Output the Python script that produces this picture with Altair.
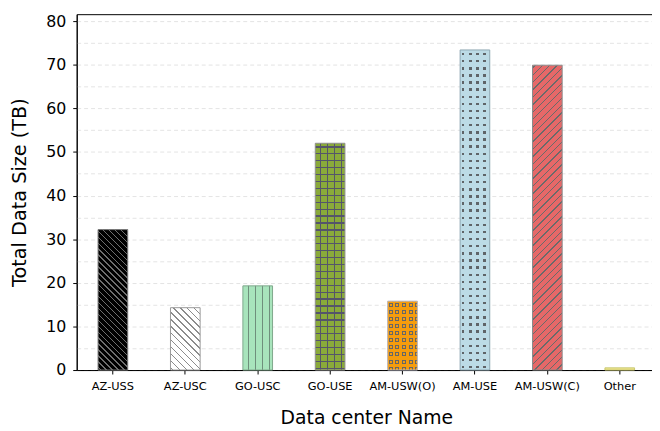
import altair as alt
import pandas as pd

# ---- data ----
centers = ["AZ-USS", "AZ-USC", "GO-USC", "GO-USE", "AM-USW(O)", "AM-USE", "AM-USW(C)", "Other"]
sizes_tb = [32.2, 14.3, 19.3, 52.0, 15.8, 73.4, 69.9, 0.5]

# ---- styles ----
fills = ["#000000", "#ffffff", "#a8e4bc", "#8aaa3a", "#f59c0c", "#bcdbe6", "#e66868", "#f0e68c"]
edges = ["#777777", "#9a9a9a", "#7fa88c", "#8f8f8f", "#b9b9c8", "#8fa8b3", "#8a8a8a", "#c8c870"]
HATCH = "#666666"
CLEAR = "rgba(0,0,0,0)"

W_PX, H_PX, Y_MAX, BAR_W = 586, 360, 81.6, 30
FONT = "DejaVu Sans"

df = pd.DataFrame({"center": centers, "size": sizes_tb})


def bar_h(name):
    return sizes_tb[centers.index(name)] * H_PX / Y_MAX


def band_stops(length, period, intervals, on, off, phase=0.0):
    """Hard-edged stops: colour `on` inside each interval (px, relative to period start)."""
    stops = [{"offset": 0, "color": off}]
    start = phase - period
    while start < length:
        for a, b in intervals:
            a0, b0 = max(0.0, start + a), min(length, start + b)
            if b0 > a0:
                stops += [{"offset": a0 / length, "color": off}, {"offset": a0 / length, "color": on},
                          {"offset": b0 / length, "color": on}, {"offset": b0 / length, "color": off}]
        start += period
    stops.append({"offset": 1, "color": off})
    last = 0
    for s in stops:
        s["offset"] = max(last, min(1.0, round(s["offset"], 5)))
        last = s["offset"]
    return stops


def grad(x2, y2, stops, x1=0, y1=0):
    return {"gradient": "linear", "x1": x1, "y1": y1, "x2": x2, "y2": y2, "stops": stops}


def diag(name, bg, fg, spacing, lw, forward):
    w, h = BAR_W, bar_h(name)
    L = w + h
    k = (w + h) / (w * w + h * h)
    stops = band_stops(L, spacing, [(0, lw * 1.414)], fg, bg, phase=2)
    if forward:  # "/" lines
        return grad(k * w, k * h, stops)
    return grad(k * w, 1 - k * h, stops, x1=0, y1=1)  # "\" lines


def vert_lines(bg, fg, period, intervals, phase):
    return grad(1, 0, band_stops(BAR_W, period, intervals, fg, bg, phase))


def horiz_lines(name, bg, fg, period, intervals, phase):
    return grad(0, 1, band_stops(bar_h(name), period, intervals, fg, bg, phase))


y_axis = alt.Axis(
    values=list(range(0, 85, 5)),
    labelExpr="datum.value % 10 == 0 ? datum.label : ''",
    tickOpacity={"condition": {"test": "datum.value % 10 != 0", "value": 0}, "value": 1},
    title="Total Data Size (TB)",
)
x_axis = alt.Axis(title="Data center Name", labelAngle=0)

base = alt.Chart(df).encode(
    x=alt.X("center:N", sort=centers, scale=alt.Scale(paddingInner=0, paddingOuter=0), axis=x_axis),
    y=alt.Y("size:Q", scale=alt.Scale(domain=[0, Y_MAX], nice=False), axis=y_axis),
)


def layer(name, fill):
    return base.transform_filter(alt.datum.center == name).mark_bar(size=BAR_W, fill=fill, strokeWidth=0)


layers = []
# AZ-USS: black with grey "\" hatch
layers.append(layer("AZ-USS", diag("AZ-USS", fills[0], "#6e6e6e", 6.0, 1.0, forward=False)))
# AZ-USC: white with grey "\" hatch
layers.append(layer("AZ-USC", diag("AZ-USC", fills[1], "#8c8c8c", 7.0, 1.0, forward=False)))
# GO-USC: vertical lines
layers.append(layer("GO-USC", vert_lines(fills[2], "#6f8f7c", 7.0, [(0, 1.1)], 5.2)))
# GO-USE: grid
layers.append(layer("GO-USE", vert_lines(fills[3], "#55556a", 7.2, [(0, 1.3)], 4.4)))
layers.append(layer("GO-USE", horiz_lines("GO-USE", CLEAR, "#55556a", 7.0, [(0, 1.3)], 3.0)))
# AM-USW(O): small hollow squares
o = "AM-USW(O)"
sq = [(0, 1), (3, 4)]
layers.append(layer(o, fills[4]))
layers.append(layer(o, vert_lines(CLEAR, HATCH, 6.7, sq, 1.0)))
layers.append(layer(o, horiz_lines(o, fills[4], CLEAR, 7.2, [(0, 4)], 1.5)))
layers.append(layer(o, horiz_lines(o, CLEAR, HATCH, 7.2, sq, 1.5)))
layers.append(layer(o, vert_lines(fills[4], CLEAR, 6.7, [(0, 4)], 1.0)))
# AM-USE: dots
layers.append(layer("AM-USE", fills[5]))
layers.append(layer("AM-USE", vert_lines(CLEAR, "#5f6468", 7.2, [(0, 2.4)], 2.0)))
layers.append(layer("AM-USE", horiz_lines("AM-USE", fills[5], CLEAR, 7.2, [(0, 2.4)], 3.0)))
# AM-USW(C): "/" hatch
layers.append(layer("AM-USW(C)", diag("AM-USW(C)", fills[6], "#6a6a6a", 7.5, 1.0, forward=True)))
# Other
layers.append(layer("Other", fills[7]))

# outlines
outline = base.mark_bar(size=BAR_W, fill="transparent", strokeWidth=1).encode(
    stroke=alt.Stroke("center:N", scale=alt.Scale(domain=centers, range=edges), legend=None)
)
layers.append(outline)

chart = alt.layer(*layers).properties(
    width=W_PX,
    height=H_PX,
    autosize=alt.AutoSizeParams(type="none"),
    padding={"left": 69.5, "top": 3.8, "right": -4, "bottom": 58},
    background="white",
).configure_view(
    stroke="black", strokeWidth=1
).configure_axis(
    labelFont=FONT, titleFont=FONT, labelColor="black", titleColor="black",
    domainColor="black", tickColor="black", tickSize=4,
    titleFontWeight="normal", gridColor="#e4e4e4", gridDash=[4, 3], gridWidth=1,
).configure_axisY(
    labelFontSize=16, titleFontSize=19.5, labelPadding=7, titlePadding=16, grid=True,
).configure_axisX(
    labelFontSize=11.5, titleFontSize=19, labelPadding=7, titlePadding=17, grid=False,
)

chart.save("out.html", embed_options={"renderer": "svg", "actions": False})
